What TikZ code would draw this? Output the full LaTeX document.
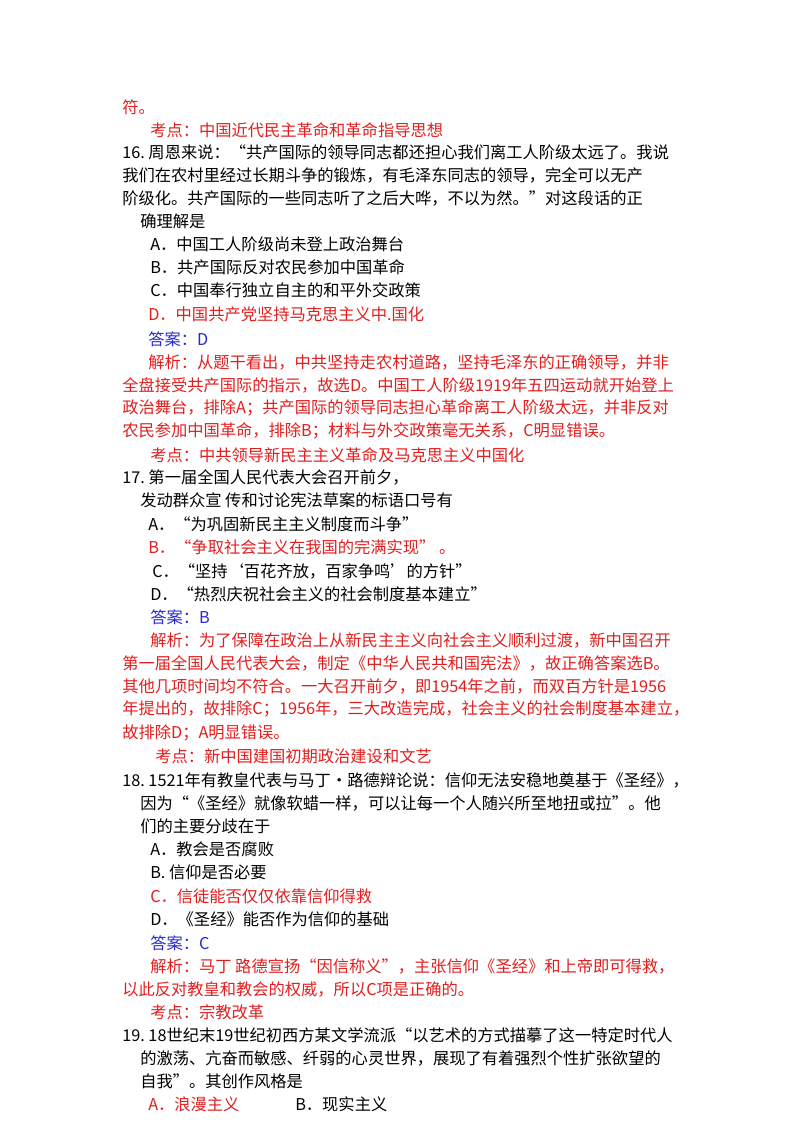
\documentclass[tikz,border=0pt]{standalone}
\usepackage{fontspec}
\setmainfont{Noto Sans CJK SC}
\definecolor{rd}{RGB}{225,30,30}
\definecolor{bl}{RGB}{40,40,210}
\begin{document}
\begin{tikzpicture}[x=0.75pt,y=-0.75pt,font=\fontsize{12.2}{14}\selectfont,
 t/.style={anchor=west,inner sep=0pt},
 r/.style={t,text=rd}, b/.style={t,text=bl}]
\useasboundingbox (0,0) rectangle (800,1132);
\node[r] (l1) at (122,107) {符。};
\node[r] (l2) at (150,130) {考点：中国近代民主革命和革命指导思想};
\node[t] (l3) at (122,152) {16.\ 周恩来说：“共产国际的领导同志都还担心我们离工人阶级太远了。我说};
\node[t] (l4) at (122,175) {我们在农村里经过长期斗争的锻炼，有毛泽东同志的领导，完全可以无产};
\node[t] (l5) at (122,198) {阶级化。共产国际的一些同志听了之后大哗，不以为然。”对这段话的正};
\node[t] (l6) at (140,221) {确理解是};
\node[t] (l7) at (150,244) {A．中国工人阶级尚未登上政治舞台};
\node[t] (l8) at (150,267) {B．共产国际反对农民参加中国革命};
\node[t] (l9) at (150,290) {C．中国奉行独立自主的和平外交政策};
\node[r] (l10) at (148,314) {D．中国共产党坚持马克思主义中.国化};
\node[b] (l11) at (148,339) {答案：D};
\node[r] (l12) at (148,362) {解析：从题干看出，中共坚持走农村道路，坚持毛泽东的正确领导，并非};
\node[r] (l13) at (122,385) {全盘接受共产国际的指示，故选D。中国工人阶级1919年五四运动就开始登上};
\node[r] (l14) at (122,408) {政治舞台，排除A；共产国际的领导同志担心革命离工人阶级太远，并非反对};
\node[r] (l15) at (122,431) {农民参加中国革命，排除B；材料与外交政策毫无关系，C明显错误。};
\node[r] (l16) at (150,455) {考点：中共领导新民主主义革命及马克思主义中国化};
\node[t] (l17) at (122,477) {17.\ 第一届全国人民代表大会召开前夕，};
\node[t] (l18) at (140,500) {发动群众宣\ 传和讨论宪法草案的标语口号有};
\node[t] (l19) at (148,524) {A．“为巩固新民主主义制度而斗争”};
\node[r] (l20) at (148,547) {B．“争取社会主义在我国的完满实现”\ 。};
\node[t] (l21) at (152,571) {C．“坚持‘百花齐放，百家争鸣’的方针”};
\node[t] (l22) at (150,594) {D．“热烈庆祝社会主义的社会制度基本建立”};
\node[b] (l23) at (150,617) {答案：B};
\node[r] (l24) at (150,640) {解析：为了保障在政治上从新民主主义向社会主义顺利过渡，新中国召开};
\node[r] (l25) at (122,663) {第一届全国人民代表大会，制定《中华人民共和国宪法》，故正确答案选B。};
\node[r] (l26) at (122,686) {其他几项时间均不符合。一大召开前夕，即1954年之前，而双百方针是1956};
\node[r] (l27) at (122,709) {年提出的，故排除C；1956年，三大改造完成，社会主义的社会制度基本建立，};
\node[r] (l28) at (122,733) {故排除D；A明显错误。};
\node[r] (l29) at (155,756) {考点：新中国建国初期政治建设和文艺};
\node[t] (l30) at (122,780) {18.\ 1521年有教皇代表与马丁•路德辩论说：信仰无法安稳地奠基于《圣经》，};
\node[t] (l31) at (140,803) {因为“《圣经》就像软蜡一样，可以让每一个人随兴所至地扭或拉”。他};
\node[t] (l32) at (140,826) {们的主要分歧在于};
\node[t] (l33) at (150,849) {A．教会是否腐败};
\node[t] (l34) at (150,872) {B. 信仰是否必要};
\node[r] (l35) at (150,896) {C．信徒能否仅仅依靠信仰得救};
\node[t] (l36) at (150,919) {D．《圣经》能否作为信仰的基础};
\node[b] (l37) at (150,943) {答案：C};
\node[r] (l38) at (150,966) {解析：马丁\ 路德宣扬“因信称义”，主张信仰《圣经》和上帝即可得救，};
\node[r] (l39) at (122,989) {以此反对教皇和教会的权威，所以C项是正确的。};
\node[r] (l40) at (150,1012) {考点：宗教改革};
\node[t] (l41) at (122,1035) {19.\ 18世纪末19世纪初西方某文学流派“以艺术的方式描摹了这一特定时代人};
\node[t] (l42) at (140,1058) {的激荡、亢奋而敏感、纤弱的心灵世界，展现了有着强烈个性扩张欲望的};
\node[t] (l43) at (140,1081) {自我”。其创作风格是};
\node[r] (l44) at (148,1104) {A．浪漫主义};
\node[t] (l45) at (295,1104) {B．现实主义};
\end{tikzpicture}
\end{document}
